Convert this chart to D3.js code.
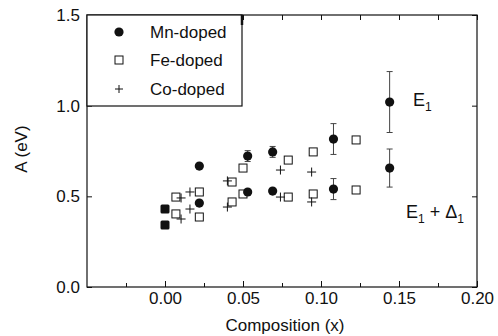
<!DOCTYPE html>
<html><head><meta charset="utf-8">
<script src="https://cdn.jsdelivr.net/npm/d3@7"></script>
<style>body{margin:0;background:#fff}svg{display:block}text{font-family:"Liberation Sans",Arial,sans-serif;fill:#111}</style>
</head><body><svg id="c" width="498" height="336"></svg>
<script>
// ---- data ----
const xMajorTicks = [0, 0.05, 0.10, 0.15, 0.20];
const xMinorTicks = [-0.025, 0.025, 0.075, 0.125, 0.175];
const yTicks = [0, 0.5, 1.0, 1.5];
const seriesNames = ["Mn-doped", "Fe-doped", "Co-doped"];

const undopedX = [0, 0];
const undopedY = [0.43, 0.342];

const mnX      = [0.022, 0.053, 0.069, 0.108, 0.144];
const mnUpper  = [0.667, 0.722, 0.745, 0.816, 1.02];
const mnUpperErr = [0, 0.03, 0.03, 0.085, 0.168];
const mnLower  = [0.463, 0.524, 0.529, 0.540, 0.656];
const mnLowerErr = [0, 0, 0, 0.058, 0.105];

const feX     = [0.007, 0.022, 0.043, 0.050, 0.079, 0.095, 0.1225];
const feUpper = [0.496, 0.524, 0.579, 0.656, 0.700, 0.745, 0.811];
const feLower = [0.403, 0.386, 0.469, 0.513, 0.496, 0.513, 0.535];

const coX     = [0.0103, 0.016, 0.040, 0.074, 0.094];
const coUpper = [0.491, 0.524, 0.585, 0.645, 0.634];
const coLower = [0.375, 0.430, 0.441, 0.496, 0.469];

// ---- chart ----
const svg = d3.select("#c");
const L = 87, R = 477, T = 15, B = 287;
const x = d3.scaleLinear().domain([-0.05, 0.20]).range([L, R]);
const y = d3.scaleLinear().domain([0, 1.5]).range([B, T]);
const FS = 17;

// bottom axis
const gb = svg.append("g").attr("transform", `translate(0,${B})`)
  .call(d3.axisBottom(x).tickValues(xMajorTicks).tickSize(-6).tickPadding(5).tickFormat(d3.format(".2f")));
gb.select(".domain").remove();
gb.selectAll("text").attr("font-size", FS).attr("font-family", null);
svg.append("g").attr("transform", `translate(0,${B})`)
  .call(d3.axisBottom(x).tickValues(xMinorTicks).tickSize(-4).tickFormat(""))
  .select(".domain").remove();
// top axis
const gt = svg.append("g").attr("transform", `translate(0,${T})`)
  .call(d3.axisTop(x).tickValues(xMajorTicks.concat(xMinorTicks)).tickSize(-5).tickFormat(""));
gt.select(".domain").remove();
// left axis
const gl = svg.append("g").attr("transform", `translate(${L},0)`)
  .call(d3.axisLeft(y).tickValues(yTicks).tickSize(-5).tickPadding(7).tickFormat(d3.format(".1f")));
gl.select(".domain").remove();
gl.selectAll("text").attr("font-size", FS).attr("font-family", null);
// right axis
const gr = svg.append("g").attr("transform", `translate(${R},0)`)
  .call(d3.axisRight(y).tickValues(yTicks).tickSize(-5).tickFormat(""));
gr.select(".domain").remove();
svg.selectAll(".tick line").attr("stroke", "#111");

// frame
svg.append("rect").attr("x", L).attr("y", T).attr("width", R - L).attr("height", B - T)
  .attr("fill", "none").attr("stroke", "#111").attr("stroke-width", 1.2);

// axis titles
svg.append("text").attr("x", (L + R) / 2 + 3).attr("y", 331).attr("text-anchor", "middle")
  .attr("font-size", FS).text("Composition (x)");
svg.append("text").attr("transform", "translate(27,149) rotate(-90)").attr("text-anchor", "middle")
  .attr("font-size", FS).text("A (eV)");

// error bars
function errBars(xs, ys, es) {
  xs.forEach((xv, i) => {
    if (!es[i]) return;
    const cx = x(xv), y1 = y(ys[i] + es[i]), y2 = y(ys[i] - es[i]);
    const g = svg.append("g").attr("stroke", "#444").attr("stroke-width", 1);
    g.append("line").attr("x1", cx).attr("x2", cx).attr("y1", y1).attr("y2", y2);
    g.append("line").attr("x1", cx - 3).attr("x2", cx + 3).attr("y1", y1).attr("y2", y1);
    g.append("line").attr("x1", cx - 3).attr("x2", cx + 3).attr("y1", y2).attr("y2", y2);
  });
}
errBars(mnX, mnUpper, mnUpperErr);
errBars(mnX, mnLower, mnLowerErr);

// markers
function squares(xs, ys) {
  svg.append("g").selectAll("rect").data(xs.map((v, i) => [v, ys[i]])).join("rect")
    .attr("x", d => x(d[0]) - 4).attr("y", d => y(d[1]) - 4).attr("width", 8).attr("height", 8)
    .attr("fill", "#fff").attr("stroke", "#111").attr("stroke-width", 1);
}
function pluses(xs, ys) {
  const g = svg.append("g").attr("stroke", "#111").attr("stroke-width", 1);
  xs.forEach((v, i) => {
    const cx = x(v), cy = y(ys[i]);
    g.append("line").attr("x1", cx - 4.5).attr("x2", cx + 4.5).attr("y1", cy).attr("y2", cy);
    g.append("line").attr("x1", cx).attr("x2", cx).attr("y1", cy - 4.5).attr("y2", cy + 4.5);
  });
}
function circles(xs, ys) {
  svg.append("g").selectAll("circle").data(xs.map((v, i) => [v, ys[i]])).join("circle")
    .attr("cx", d => x(d[0])).attr("cy", d => y(d[1])).attr("r", 4.6).attr("fill", "#111");
}
squares(feX, feUpper); squares(feX, feLower);
pluses(coX, coUpper); pluses(coX, coLower);
circles(mnX, mnUpper); circles(mnX, mnLower);
svg.append("g").selectAll("rect").data(undopedX.map((v, i) => [v, undopedY[i]])).join("rect")
  .attr("x", d => x(d[0]) - 4.5).attr("y", d => y(d[1]) - 4.5).attr("width", 9).attr("height", 9)
  .attr("rx", 1.5).attr("fill", "#111");

// labels E1 and E1+Δ1
const e1 = svg.append("text").attr("x", 413).attr("y", 106).attr("font-size", 18);
e1.append("tspan").text("E");
e1.append("tspan").attr("font-size", 12).attr("dy", 5).text("1");
const e2 = svg.append("text").attr("x", 406).attr("y", 218).attr("font-size", 18);
e2.append("tspan").text("E");
e2.append("tspan").attr("font-size", 12).attr("dy", 5).text("1");
e2.append("tspan").attr("dy", -5).text(" + Δ");
e2.append("tspan").attr("font-size", 12).attr("dy", 5).text("1");

// legend
const lg = svg.append("g");
lg.append("rect").attr("x", L).attr("y", T).attr("width", 242 - L).attr("height", 106 - T)
  .attr("fill", "#fff").attr("stroke", "#111").attr("stroke-width", 1.2);
lg.append("line").attr("x1", 242).attr("x2", 242).attr("y1", T).attr("y2", 25)
  .attr("stroke", "#111").attr("stroke-width", 2.5);
const legY = [32, 60, 89];
seriesNames.forEach((name, i) => {
  const cy = legY[i], cx = 119;
  if (i === 0) lg.append("circle").attr("cx", cx).attr("cy", cy).attr("r", 4.6).attr("fill", "#111");
  if (i === 1) lg.append("rect").attr("x", cx - 4).attr("y", cy - 4).attr("width", 8).attr("height", 8)
    .attr("fill", "#fff").attr("stroke", "#111");
  if (i === 2) {
    lg.append("line").attr("x1", cx - 4).attr("x2", cx + 4).attr("y1", cy).attr("y2", cy).attr("stroke", "#111");
    lg.append("line").attr("x1", cx).attr("x2", cx).attr("y1", cy - 4).attr("y2", cy + 4).attr("stroke", "#111");
  }
  lg.append("text").attr("x", 150).attr("y", cy + 6).attr("font-size", FS).text(name);
});
</script></body></html>
